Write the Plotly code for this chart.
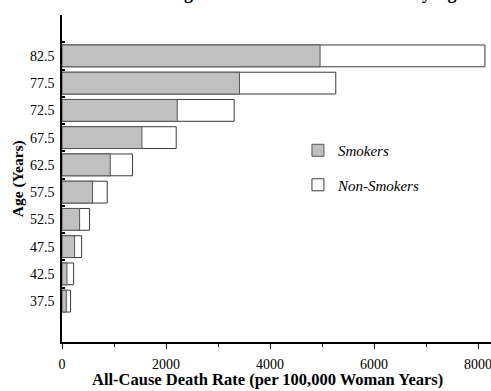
import plotly.graph_objects as go

# Age-group midpoints (years)
ages = [37.5, 42.5, 47.5, 52.5, 57.5, 62.5, 67.5, 72.5, 77.5, 82.5]
# All-cause death rate per 100,000 woman years
smokers = [83, 96, 242, 338, 588, 928, 1537, 2216, 3413, 4963]
non_smokers = [165, 223, 377, 530, 870, 1357, 2196, 3311, 5265, 8134]

x_ticks = [0, 2000, 4000, 6000, 8000]
FONT = "'Liberation Serif', 'Times New Roman', serif"

fig = go.Figure()
fig.add_trace(go.Bar(
    y=ages, x=non_smokers, orientation="h", name="Non-Smokers",
    width=4, marker=dict(color="white", line=dict(color="#3a3a3a", width=1)),
    legendgroup="n", legendrank=2,
))
fig.add_trace(go.Bar(
    y=ages, x=smokers, orientation="h", name="Smokers",
    width=4, marker=dict(color="#c0c0c0", line=dict(color="#555555", width=1)),
    legendgroup="s", legendrank=1,
))

fig.update_layout(
    width=491, height=391,
    margin=dict(l=62, r=0, t=15, b=49),
    paper_bgcolor="white", plot_bgcolor="white",
    barmode="overlay",
    font=dict(family=FONT, size=14, color="black"),
    showlegend=True,
    legend=dict(
        x=0.55, y=0.636, xanchor="left", yanchor="top",
        font=dict(family=FONT, size=15, style="italic"),
        tracegroupgap=12, bgcolor="rgba(0,0,0,0)",
    ),
    xaxis=dict(
        range=[0, 8250], tickvals=x_ticks, ticktext=[str(v) for v in x_ticks],
        tickfont=dict(family=FONT, size=14),
        showline=True, linecolor="black", linewidth=1.5,
        ticks="outside", ticklen=5, tickwidth=1, tickcolor="black",
        ticklabeloverflow="allow", ticklabelstandoff=3,
        minor=dict(dtick=1000, tick0=0, ticks="outside", ticklen=3, tickcolor="black"),
        showgrid=False, zeroline=False,
    ),
    yaxis=dict(
        range=[30, 90], tickvals=ages, ticktext=[str(a) for a in ages],
        tickfont=dict(family=FONT, size=14),
        showline=True, linecolor="black", linewidth=1.5,
        ticks="", ticklabelstandoff=3,
        minor=dict(tickvals=[40, 45, 50, 55, 60, 65, 70, 75, 80, 85],
                   ticks="inside", ticklen=3, tickwidth=1.5, tickcolor="black"),
        showgrid=False, zeroline=False,
    ),
    annotations=[
        dict(text="<b>All-Cause Death Rate (per 100,000 Woman Years)</b>",
             xref="paper", yref="paper", x=0.478, y=-0.116,
             xanchor="center", yanchor="middle", showarrow=False,
             font=dict(family=FONT, size=16.5)),
        dict(text="<b>Age (Years)</b>", textangle=-90,
             xref="paper", yref="paper", x=-0.103, y=0.5,
             xanchor="center", yanchor="middle", showarrow=False,
             font=dict(family=FONT, size=15.5)),
        dict(text="<b>Death Rates Among Smokers and Non-Smokers by Age</b>",
             xref="paper", yref="paper", x=0.445, y=1.03,
             xanchor="center", yanchor="bottom", showarrow=False,
             font=dict(family=FONT, size=18)),
    ],
)

fig.write_html("out.html")
